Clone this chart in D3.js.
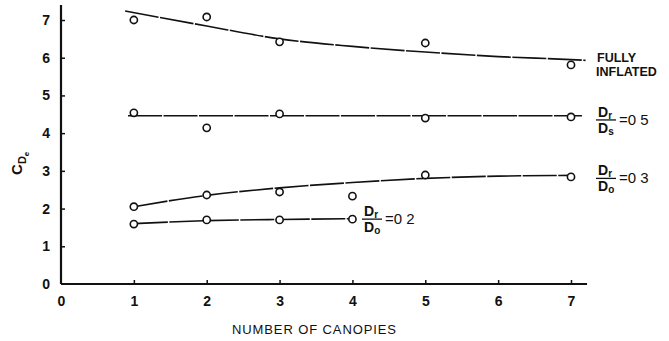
<!DOCTYPE html>
<html>
<head>
<meta charset="utf-8">
<script src="https://cdn.jsdelivr.net/npm/d3@7/dist/d3.min.js"></script>
<style>
  html, body { margin: 0; padding: 0; background: #fff; }
  svg { display: block; }
  text { font-family: "Liberation Sans", Arial, sans-serif; fill: #111; }
</style>
</head>
<body>
<svg id="chart" width="669" height="341"></svg>
<script>
// Drag coefficient vs. number of canopies in a cluster
const canopies = [1, 2, 3, 4, 5, 6, 7];
const xTicks = [0, 1, 2, 3, 4, 5, 6, 7];
const yTicks = [0, 1, 2, 3, 4, 5, 6, 7];

// Measured points (x = number of canopies, y = C_De)
const inflatedX = [1, 2, 3, 5, 7];
const inflatedY = [7.0, 7.08, 6.42, 6.39, 5.81];
const ratio05X = [1, 2, 3, 5, 7];
const ratio05Y = [4.54, 4.14, 4.51, 4.4, 4.43];
const ratio03X = [1, 2, 3, 4, 5, 7];
const ratio03Y = [2.05, 2.36, 2.44, 2.33, 2.89, 2.84];
const ratio02X = [1, 2, 3, 4];
const ratio02Y = [1.59, 1.7, 1.7, 1.72];

// Faired curves through each set
const inflatedFitX = [0.88, 2, 3, 4, 5, 6, 7, 7.2];
const inflatedFitY = [7.24, 6.84, 6.5, 6.3, 6.15, 6.03, 5.95, 5.93];
const ratio05FitX = [0.92, 7.15];
const ratio05FitY = [4.46, 4.46];
const ratio03FitX = [1, 2, 3, 4, 5, 6, 7];
const ratio03FitY = [2.05, 2.35, 2.55, 2.69, 2.8, 2.86, 2.88];
const ratio02FitX = [1, 2, 3, 4];
const ratio02FitY = [1.6, 1.68, 1.71, 1.73];

const svg = d3.select("#chart");
const x = d3.scaleLinear().domain([0, 7]).range([61, 571]);
const y = d3.scaleLinear().domain([0, 7]).range([284, 20]);

// Axes
const gx = svg.append("g").attr("transform", `translate(0,${y(0)})`)
  .call(d3.axisBottom(x).tickValues(xTicks).tickSizeInner(-4).tickSizeOuter(0).tickPadding(12).tickFormat(d3.format("d")));
const gy = svg.append("g").attr("transform", `translate(${x(0)},0)`)
  .call(d3.axisLeft(y).tickValues(yTicks).tickSizeInner(-4).tickSizeOuter(0).tickPadding(11).tickFormat(d3.format("d")));
[gx, gy].forEach(g => {
  g.select(".domain").remove();
  g.selectAll(".tick line").attr("stroke", "#111").attr("stroke-width", 1.5);
  g.selectAll(".tick text").attr("font-size", 14).attr("font-weight", "bold").attr("fill", "#111");
});
gx.selectAll(".tick").filter(d => d === 0).select("line").remove();
gy.selectAll(".tick").filter(d => d === 0).select("line").remove();

svg.append("line").attr("x1", x(0)).attr("x2", x(7.22)).attr("y1", y(0)).attr("y2", y(0))
  .attr("stroke", "#111").attr("stroke-width", 2.2);
svg.append("line").attr("x1", x(0)).attr("x2", x(0)).attr("y1", y(0)).attr("y2", y(7.4))
  .attr("stroke", "#111").attr("stroke-width", 2.2);

// Curves
const line = d3.line().x(d => x(d[0])).y(d => y(d[1])).curve(d3.curveMonotoneX);
const curves = [
  [inflatedFitX, inflatedFitY],
  [ratio05FitX, ratio05FitY],
  [ratio03FitX, ratio03FitY],
  [ratio02FitX, ratio02FitY]
];
curves.forEach(([xs, ys]) => {
  svg.append("path").datum(xs.map((v, i) => [v, ys[i]]))
    .attr("d", line).attr("fill", "none").attr("stroke", "#111")
    .attr("stroke-width", 1.6).attr("stroke-dasharray", "34,1.5");
});

// Data circles
const sets = [[inflatedX, inflatedY], [ratio05X, ratio05Y], [ratio03X, ratio03Y], [ratio02X, ratio02Y]];
sets.forEach(([xs, ys]) => {
  svg.append("g").selectAll("circle").data(xs.map((v, i) => [v, ys[i]])).join("circle")
    .attr("cx", d => x(d[0])).attr("cy", d => y(d[1])).attr("r", 3.6)
    .attr("fill", "#fff").attr("stroke", "#111").attr("stroke-width", 1.6);
});

// Curve labels
const lab = svg.append("g").attr("font-weight", "bold");
lab.append("text").attr("x", 597).attr("y", 62).attr("font-size", 12.5).text("FULLY");
lab.append("text").attr("x", 596).attr("y", 76).attr("font-size", 12.5).text("INFLATED");

function fraction(xPos, yMid, den, val) {
  const g = svg.append("g").attr("font-weight", "bold");
  const num = g.append("text").attr("x", xPos + 2).attr("y", yMid - 3).attr("font-size", 14);
  num.append("tspan").text("D");
  num.append("tspan").attr("font-size", 10).attr("dy", 2).text("r");
  const dn = g.append("text").attr("x", xPos + 2).attr("y", yMid + 13).attr("font-size", 14);
  dn.append("tspan").text("D");
  dn.append("tspan").attr("font-size", 10).attr("dy", 2).text(den);
  g.append("line").attr("x1", xPos).attr("x2", xPos + 20).attr("y1", yMid).attr("y2", yMid)
    .attr("stroke", "#111").attr("stroke-width", 1.3);
  g.append("text").attr("x", xPos + 23).attr("y", yMid + 5).attr("font-size", 15)
    .attr("font-weight", "normal").text("=0 " + val);
}
fraction(596, y(4.35), "s", "5");
fraction(596, y(2.8), "o", "3");
fraction(362, y(1.72), "o", "2");

// Axis titles
svg.append("text").attr("x", x(3.5) - 2).attr("y", 334).attr("text-anchor", "middle")
  .attr("font-size", 13).attr("textLength", 164).text("NUMBER OF CANOPIES");

const yl = svg.append("text").attr("transform", `translate(22,${y(3.2)}) rotate(-90)`)
  .attr("text-anchor", "middle").attr("font-size", 15).attr("font-weight", "bold");
yl.append("tspan").text("C");
yl.append("tspan").attr("font-size", 11).attr("dy", 4).text("D");
yl.append("tspan").attr("font-size", 8).attr("dy", 3).text("e");
</script>
</body>
</html>
